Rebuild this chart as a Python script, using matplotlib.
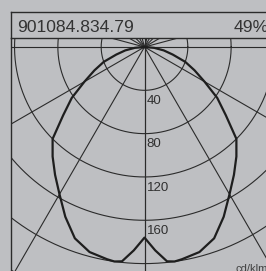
import numpy as np
import matplotlib.pyplot as plt
from matplotlib.lines import Line2D

# luminous intensity (cd/klm) vs angle from nadir, one half, mirrored for the other
angles = [0, 3, 6, 8, 10, 15, 20, 25, 30, 35, 40, 45, 50, 55, 60, 65, 70, 75, 80, 85, 90]
intensity = [176, 188, 199, 200, 199, 196, 188, 173, 157, 144, 132, 120, 98, 82, 64, 51, 40, 27, 18, 9, 0]

rings = [40, 80, 120, 160, 200, 240]
ring_labels = ["40", "80", "120", "160"]
spokes_low = [0, 30, 60, 90]
spokes_up = [105, 120, 135, 150, 165, 180]

article = "901084.834.79"
efficiency = "49%"
unit = "cd/klm"

W, H = 266, 271
bg = "#bebfc2"
ink = "#2b2b2b"
scale = 1.083          # pixels per cd/klm
cx, cy = 144.5, 47.0   # pole position in pixels

fig = plt.figure(figsize=(W / 100, H / 100), dpi=100, facecolor=bg)
plt.rcParams["font.family"] = ["Liberation Sans", "DejaVu Sans"]

ax = fig.add_axes([11 / W, 0, (W - 11) / W, (H - 38) / H])
ax.set_facecolor(bg)
ax.set_xlim(-(cx - 11) / scale, (W - cx) / scale)
ax.set_ylim(-(H - cy) / scale, (cy - 38) / scale)
ax.set_aspect("equal")
ax.set_xticks([])
ax.set_yticks([])
for side in ["right", "bottom"]:
    ax.spines[side].set_visible(False)
for side in ["left", "top"]:
    ax.spines[side].set_color(ink)
    ax.spines[side].set_linewidth(1.0)

# rings
t = np.linspace(0, 2 * np.pi, 721)
for r in rings:
    ax.plot(r * np.cos(t), r * np.sin(t), color=ink, lw=0.8)

# spokes
R = 400
for a in spokes_low + spokes_up:
    th = np.radians(a)
    for sgn in (-1, 1):
        ax.plot([0, sgn * R * np.sin(th)], [0, -R * np.cos(th)], color=ink, lw=0.8)

# ring labels
for r, lab in zip(rings, ring_labels):
    ax.text(2.0, -(r + 12.6), lab, fontsize=9.5, color="#303030",
            ha="left", va="baseline")

# light distribution curve
th = np.radians(np.array(angles, dtype=float))
I = np.array(intensity, dtype=float)
x = np.concatenate([-(I * np.sin(th))[::-1], (I * np.sin(th))[1:]])
y = np.concatenate([-(I * np.cos(th))[::-1], -(I * np.cos(th))[1:]])
ax.plot(x, y, color="#1e1e1e", lw=1.6, solid_joinstyle="round")

# header frame
fig.add_artist(Line2D([11 / W, 11 / W], [1 - 12 / H, 1 - 38 / H], color=ink, lw=1.0))
fig.add_artist(Line2D([11 / W, 1], [1 - 12 / H, 1 - 12 / H], color=ink, lw=1.0))

fig.text(17 / W, 1 - 31.8 / H, article, fontsize=12.6, color="#333333",
         ha="left", va="baseline")
fig.text(233.3 / W, 1 - 32.2 / H, efficiency, fontsize=12.6, color="#333333",
         ha="left", va="baseline")
fig.text(235 / W, 1 - 272.5 / H, unit, fontsize=8, color="#404040",
         ha="left", va="baseline")

fig.savefig("out.png", dpi=100, facecolor=bg)
